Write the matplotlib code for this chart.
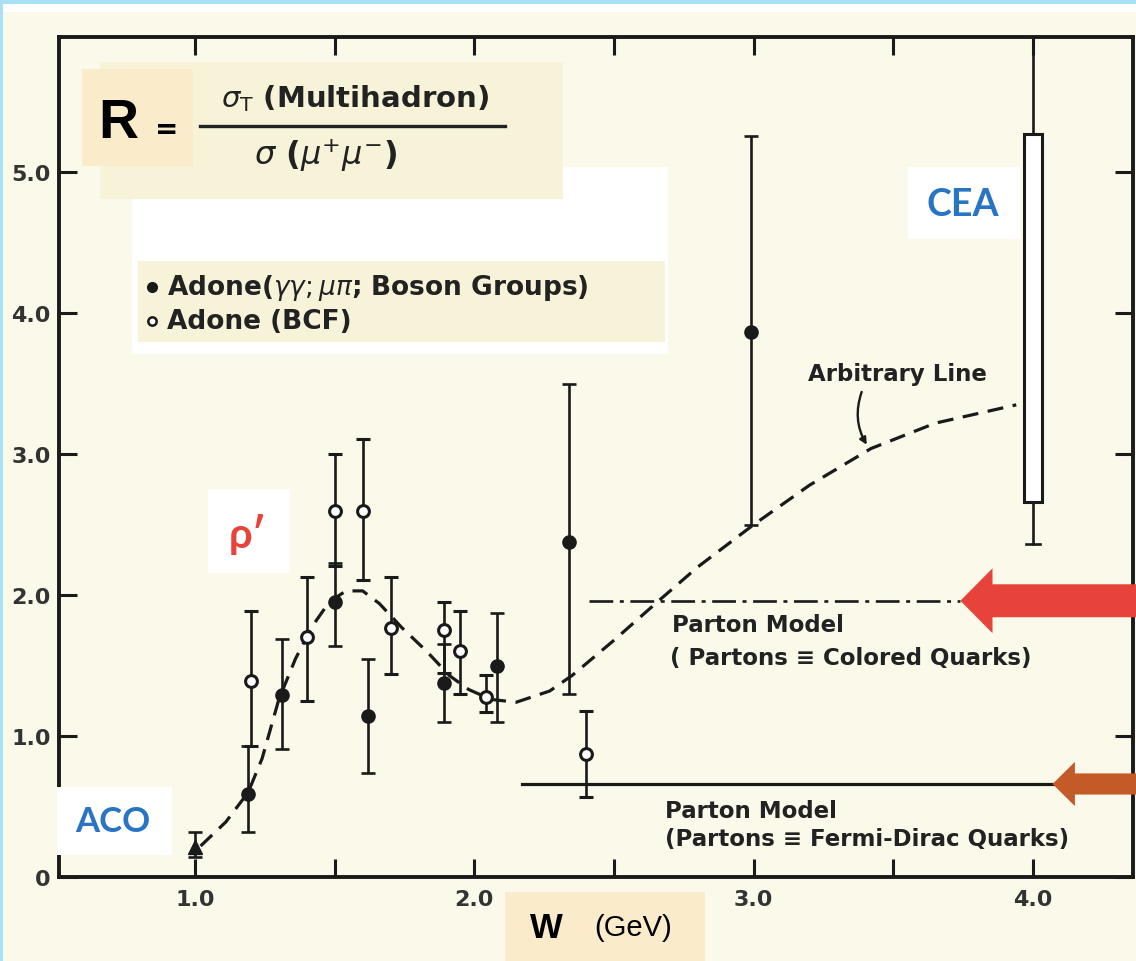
import matplotlib
matplotlib.use("Agg")
import matplotlib.pyplot as plt
from matplotlib.patches import Rectangle, Polygon
import numpy as np

# ============================================
# DATA
# ============================================

# ACO point (triangle)
aco_w = [1.0]
aco_r = [0.21]
aco_lo = [0.14]
aco_hi = [0.32]

# Adone (gamma gamma; mu pi; Boson Groups) - filled circles
filled_w = [1.19, 1.31, 1.50, 1.62, 1.89, 2.08, 2.34, 2.99]
filled_r = [0.59, 1.29, 1.95, 1.14, 1.38, 1.50, 2.38, 3.87]
filled_lo = [0.32, 0.91, 1.64, 0.74, 1.10, 1.10, 1.30, 2.50]
filled_hi = [0.93, 1.69, 2.23, 1.55, 1.65, 1.87, 3.50, 5.26]

# Adone (BCF) - open circles
open_w = [1.20, 1.40, 1.50, 1.60, 1.70, 1.89, 1.95, 2.04, 2.40]
open_r = [1.39, 1.70, 2.60, 2.60, 1.77, 1.75, 1.60, 1.28, 0.87]
open_lo = [0.93, 1.25, 2.21, 2.11, 1.44, 1.45, 1.30, 1.17, 0.57]
open_hi = [1.89, 2.13, 3.00, 3.11, 2.13, 1.95, 1.89, 1.43, 1.18]

# CEA measurement (box + error bar)
cea_w = 4.0
cea_box_lo, cea_box_hi = 2.66, 5.27
cea_err_lo, cea_err_hi = 2.36, 6.5

# "Arbitrary Line" drawn through the data
arb_w = [1.02, 1.11, 1.19, 1.24, 1.30, 1.36, 1.42, 1.48, 1.54, 1.60, 1.66,
         1.74, 1.83, 1.91, 1.98, 2.06, 2.15, 2.27, 2.35, 2.50, 2.66, 2.80,
         3.00, 3.20, 3.42, 3.65, 3.94]
arb_r = [0.22, 0.39, 0.60, 0.84, 1.26, 1.55, 1.78, 1.95, 2.03, 2.03, 1.94,
         1.77, 1.60, 1.43, 1.33, 1.26, 1.24, 1.32, 1.43, 1.68, 1.96, 2.20,
         2.50, 2.78, 3.04, 3.22, 3.35]

# Parton model levels
colored_r = 1.96
colored_w = [2.41, 3.74]
fermi_r = 0.66
fermi_w = [2.17, 4.07]

x_ticks = [1.0, 2.0, 3.0, 4.0]
x_labels = ["1.0", "2.0", "3.0", "4.0"]
x_minor = [1.5, 2.5, 3.5]
y_ticks = [0, 1.0, 2.0, 3.0, 4.0, 5.0]
y_labels = ["0", "1.0", "2.0", "3.0", "4.0", "5.0"]

# ============================================
# FIGURE
# ============================================

W_PX, H_PX = 1136, 962
PAPER = "#FAF9EA"
INK = "#1a1a1a"
TXT = "#222222"
BLUE = "#2A74C4"
RED = "#E8433A"
ORANGE = "#C45A28"
BEIGE = "#FAEBCB"
PALE = "#F6F3D8"

fig = plt.figure(figsize=(W_PX / 100, H_PX / 100), dpi=100, facecolor=PAPER)


def fx(px):
    return px / W_PX


def fy(py):
    return 1 - py / H_PX


def fig_rect(x0, y0, x1, y1, color, z=1):
    """Rectangle given in figure pixels (top-left origin)"""
    r = Rectangle((fx(x0), fy(y1)), fx(x1) - fx(x0), fy(y0) - fy(y1),
                  transform=fig.transFigure, facecolor=color,
                  edgecolor="none", zorder=z)
    fig.add_artist(r)


# page border (cyan frame of the slide)
fig_rect(0, 0, W_PX, 5, "#A6E1F7", z=0.5)
fig_rect(0, 5, W_PX, 13, "white", z=0.5)
fig_rect(0, 0, 3, H_PX, "#A6E1F7", z=0.5)

ax = fig.add_axes([fx(59), fy(878), fx(1133) - fx(59), fy(38) - fy(878)])
ax.set_facecolor(PAPER)
ax.set_xlim(0.513, 4.358)
ax.set_ylim(0, 5.96)

for s in ax.spines.values():
    s.set_linewidth(2.8)
    s.set_color(INK)

ax.set_xticks(x_ticks)
ax.set_xticklabels(x_labels)
ax.set_xticks(x_minor, minor=True)
ax.set_yticks(y_ticks)
ax.set_yticklabels(y_labels)
ax.tick_params(which="both", direction="in", length=13, width=2.2,
               top=True, right=True, color=INK)
ax.tick_params(axis="x", pad=9)
ax.tick_params(axis="y", pad=6)
for lab in ax.get_xticklabels() + ax.get_yticklabels():
    lab.set_fontsize(16)
    lab.set_fontweight("bold")
    lab.set_color("#333333")

# arbitrary dashed line
ax.plot(arb_w, arb_r, color=INK, lw=2.3, ls=(0, (5, 3)), zorder=2)

# parton model levels
ax.plot(colored_w, [colored_r, colored_r], color=INK, lw=1.9,
        ls=(0, (9, 2.5, 1.5, 2.5)), zorder=2)
ax.plot(fermi_w, [fermi_r, fermi_r], color=INK, lw=2.3, zorder=2)

err_kw = dict(ecolor=INK, elinewidth=1.9, capsize=5, capthick=1.9, zorder=3)

a_r = np.array(aco_r)
ax.errorbar(aco_w, aco_r, yerr=[a_r - np.array(aco_lo), np.array(aco_hi) - a_r],
            fmt="^", ms=10, mfc=INK, mec=INK, **err_kw)

f_r = np.array(filled_r)
ax.errorbar(filled_w, filled_r,
            yerr=[f_r - np.array(filled_lo), np.array(filled_hi) - f_r],
            fmt="o", ms=9.5, mfc=INK, mec=INK, **err_kw)

o_r = np.array(open_r)
ax.errorbar(open_w, open_r,
            yerr=[o_r - np.array(open_lo), np.array(open_hi) - o_r],
            fmt="o", ms=8.5, mfc="white", mec=INK, mew=2.2, **err_kw)

# CEA box with error bar
ax.plot([cea_w, cea_w], [cea_err_lo, cea_box_lo], color=INK, lw=1.9, zorder=3)
ax.plot([cea_w, cea_w], [cea_box_hi, cea_err_hi], color=INK, lw=1.9, zorder=3)
ax.plot([cea_w - 0.026, cea_w + 0.026], [cea_err_lo, cea_err_lo], color=INK,
        lw=1.9, zorder=3)
ax.add_patch(Rectangle((cea_w - 0.033, cea_box_lo), 0.066,
                       cea_box_hi - cea_box_lo, facecolor="white",
                       edgecolor=INK, lw=2.2, zorder=3))

# labels in the plot
txt_kw = dict(color=TXT, fontweight="bold", fontsize=16.5)
ax.text(2.708, colored_r - 0.17, "Parton Model", ha="left", va="center",
        **txt_kw)
ax.text(2.70, colored_r - 0.40, "( Partons \u2261 Colored Quarks)",
        ha="left", va="center", **txt_kw)
ax.text(2.683, fermi_r - 0.185, "Parton Model", ha="left", va="center",
        **txt_kw)
ax.text(2.683, fermi_r - 0.385, "(Partons \u2261 Fermi-Dirac Quarks)",
        ha="left", va="center", **txt_kw)
ax.text(3.513, 3.57, "Arbitrary Line", ha="center", va="center", **txt_kw)
ax.annotate("", xy=(3.41, 3.05), xytext=(3.39, 3.46),
            arrowprops=dict(arrowstyle="-|>", color=INK, lw=1.7,
                            mutation_scale=10,
                            connectionstyle="arc3,rad=0.25"))


def level_arrow(tip_w, level, head_len, head_half, shaft_half, color):
    end_w = 4.37
    pts = [(tip_w, level),
           (tip_w + head_len, level + head_half),
           (tip_w + head_len, level + shaft_half),
           (end_w, level + shaft_half),
           (end_w, level - shaft_half),
           (tip_w + head_len, level - shaft_half),
           (tip_w + head_len, level - head_half)]
    ax.add_patch(Polygon(pts, closed=True, facecolor=color, edgecolor="none",
                         zorder=6, clip_on=False))


level_arrow(colored_w[1], colored_r, 0.115, 0.23, 0.117, RED)
level_arrow(fermi_w[1], fermi_r, 0.08, 0.157, 0.075, ORANGE)

# ============================================
# OVERLAYS (slide annotations)
# ============================================

# white cover + formula + legend
fig_rect(132, 168, 668, 355, "white", z=2)
fig_rect(100, 63, 563, 200, PALE, z=2.1)
fig_rect(82, 70, 193, 167, BEIGE, z=2.2)
fig_rect(138, 262, 665, 343, PALE, z=2.2)

fig.text(fx(118), fy(124), "R", fontsize=40, fontweight="bold",
         family="Liberation Sans", ha="center", va="center", color="black",
         zorder=4)
fig.text(fx(167), fy(130), "=", fontsize=20, fontweight="bold",
         ha="center", va="center", color="black", zorder=4)
fig.text(fx(355), fy(99), r"$\sigma_{\rm T}$ (Multihadron)", fontsize=21,
         fontweight="bold", ha="center", va="center", color=TXT, zorder=4)
fig.add_artist(plt.Line2D([fx(200), fx(505)], [fy(127), fy(127)], lw=2.4,
                          color=TXT, transform=fig.transFigure, zorder=4))
fig.text(fx(325), fy(155), r"$\sigma$ ($\mu^{+}\mu^{-}$)", fontsize=23,
         fontweight="bold", ha="center", va="center", color=TXT, zorder=4)

fig.add_artist(plt.Line2D([fx(152)], [fy(288)], marker="o", ms=7, color=INK,
                          transform=fig.transFigure, zorder=4))
fig.add_artist(plt.Line2D([fx(152)], [fy(322)], marker="o", ms=6,
                          mfc="white", mec=INK, mew=1.8,
                          transform=fig.transFigure, zorder=4))
fig.text(fx(167), fy(288), r"Adone($\gamma\gamma;\mu\pi$; Boson Groups)",
         fontsize=19, fontweight="bold", ha="left", va="center", color=TXT,
         zorder=4)
fig.text(fx(167), fy(322), "Adone (BCF)", fontsize=19, fontweight="bold",
         ha="left", va="center", color=TXT, zorder=4)

# CEA / ACO / rho' tags
fig_rect(908, 168, 1020, 240, "white", z=2)
fig.text(fx(963), fy(205), "CEA", fontsize=27, fontweight="bold",
         family="Lato", ha="center", va="center", color=BLUE, zorder=4)
fig_rect(57, 788, 172, 856, "white", z=2)
fig.text(fx(113), fy(822), "ACO", fontsize=25, fontweight="bold",
         family="Lato", ha="center", va="center", color=BLUE, zorder=4)
fig_rect(208, 490, 290, 574, "white", z=2)
fig.text(fx(248), fy(535), "\u03c1\u2032", fontsize=30, fontweight="bold",
         family="Lato", ha="center", va="center", color=RED, zorder=4)

# x axis title
fig_rect(505, 893, 705, 962, BEIGE, z=2)
fig.text(fx(546), fy(928), "W", fontsize=25, fontweight="bold",
         family="Liberation Sans", ha="center", va="center", color="black",
         zorder=4)
fig.text(fx(633), fy(928), "(GeV)", fontsize=21, family="Liberation Sans",
         ha="center", va="center", color="black", zorder=4)

fig.savefig("out.png", dpi=100, facecolor=PAPER)
